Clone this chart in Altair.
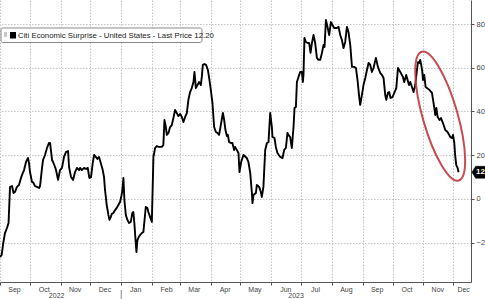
import altair as alt
import pandas as pd

# ---- data (days since 2022-09-01, index value) ----
day_offsets = [
    0, 1.7, 3.3, 5.0, 7.0, 8.6, 10.1, 12.1, 13.6, 15.1, 17.1, 19.1, 21.1, 22.2, 24.2, 26.2, 28.2, 29.2,
    30.2, 32.2, 33.2, 35.2, 37.3, 39.3, 40.3, 42.3, 43.3, 45.3, 47.3, 49.3, 50.4, 52.4, 53.4, 55.4, 56.4,
    58.4, 60.4, 62.4, 64.4, 66.5, 68.5, 69.5, 71.5, 73.5, 75.5, 77.5, 79.6,
    80.6, 82.3, 84.6, 86.6, 88.3, 89.9, 91.6, 93.3, 94.7, 96.4, 98.0, 99.7, 101.4, 103.4, 104.7, 105.7,
    107.4, 109.1, 110.1, 111.5, 112.5, 114.1, 115.8, 117.5, 119.1, 120.8, 121.8, 123.2, 124.2, 125.2,
    126.6, 128.2, 129.9, 131.6, 133.2, 134.2, 135.2, 136.2, 137.3, 138.3, 139.7, 141.0, 142.7, 144.3,
    145.3, 146.7, 148.3, 149.3, 151.1, 152.8, 154.4, 156.1, 157.8, 159.4, 161.1,
    162.8, 164.4, 165.5, 166.9, 167.9, 169.5, 171.2, 172.9, 174.5, 176.2, 177.9, 179.5, 181.3, 183.0,
    184.6, 186.3, 188.0, 189.6, 191.3, 193.0, 194.7, 195.7, 197.1, 198.7, 200.4, 202.1, 203.1, 204.1,
    205.7, 207.4, 209.2, 210.5, 212.2, 213.8, 215.5, 217.2, 218.8, 220.5, 222.2, 224.3, 225.6, 226.9,
    228.3, 229.3, 230.6, 232.3, 233.9, 235.6,
    236.6, 240.0, 241.0, 242.7, 245.0, 248.4, 250.0, 251.8, 253.5, 254.1, 255.1, 257.5, 258.5, 260.8,
    262.5, 263.5, 265.1, 266.9, 268.6, 270.2, 271.9, 273.6, 274.2, 276.2, 277.6, 279.2, 282.0, 284.3,
    286.0, 287.7, 289.3, 290.3, 292.0, 293.7, 295.4, 296.4, 297.8, 298.8, 300.4, 302.1, 303.8, 304.8,
    305.4, 306.4, 307.8, 309.9, 311.2, 312.5, 313.9, 315.5, 317.2, 318.9, 320.5, 322.2,
    324.0, 325.6, 326.6, 328.0, 329.6, 331.3, 333.0, 334.6, 336.3, 339.1, 340.7, 342.4, 344.1, 345.7,
    347.4, 349.1, 350.7, 352.5, 354.2, 356.5, 358.2, 359.8, 361.5, 362.5, 364.2, 365.8, 367.6, 369.3,
    370.9, 372.6, 374.3, 375.9, 378.3, 380.3, 382.7, 384.4, 386.0, 387.7, 388.7, 390.4, 391.7, 393.0,
    395.0, 397.1, 398.8, 400.5, 402.8,
    405.5, 406.8, 408.8, 410.2, 411.6, 412.9, 414.6, 416.2, 417.9, 419.6, 420.6, 421.9, 422.9, 423.9,
    425.0, 425.7, 427.0, 428.3, 429.7, 432.3, 434.7, 436.3, 438.0, 439.1, 440.4, 442.4, 443.8, 445.8,
    448.1, 450.4, 453.2, 454.9, 455.9, 457.2, 458.2, 459.2, 460.5, 461.5,
]
values = [
    -26.6, -25.6, -20.1, -15.6, -13.3, -11.0, 5.5, 5.9, 2.7, 3.2, 5.5, 6.4, 9.6, 11.0, 13.2, 16.9, 18.7, 16.4,
    12.3, 7.7, 7.7, 5.9, 5.5, 5.0, 5.9, 14.2, 17.8, 20.1, 23.3, 25.6, 25.6, 17.8, 16.9, 14.6, 13.2,
    8.7, 13.2, 14.2, 19.2, 21.5, 21.9, 14.6, 10.0, 8.7, 12.3, 14.2, 13.2,
    14.2, 13.2, 14.2, 13.7, 14.2, 9.6, 10.0, 16.4, 20.1, 19.2, 18.3, 19.2, 16.4, 13.2, 10.0, 4.1,
    -2.8, -7.3, -9.6, -8.3, -6.9, -6.4, -5.1, -4.1, -2.8, -1.4, 0.4, 4.1, 9.6, -0.5,
    -7.3, -9.6, -11.0, -10.5, -6.4, -6.0, -11.0, -17.4, -24.3, -18.8, -17.4, -16.5, -15.6, -15.1,
    -10.5, -3.7, -4.1, -6.0, -8.3, -10.5, 19.2, 23.3, 24.2, 23.8, 23.8,
    23.8, 24.7, 36.1, 32.9, 29.3, 30.2, 32.9, 33.8, 37.0, 40.7, 39.3, 37.9, 38.9, 37.5,
    35.2, 37.5, 39.3, 45.3, 48.9, 50.7, 53.5, 58.1, 50.7, 52.1, 53.5, 52.1, 55.8, 61.3,
    61.7, 61.3, 59.0, 55.3, 49.8, 43.9, 32.9, 30.6, 30.2, 29.3, 33.8, 39.3, 36.1, 31.5,
    28.8, 29.3, 26.0, 25.6, 25.6, 22.4,
    23.8, 21.0, 12.3, 16.9, 20.1, 18.7, 16.9, 11.9, 2.7, -1.9, 1.8, 2.7, 6.4, 5.5,
    3.2, 0.9, 5.5, 22.4, 25.6, 26.0, 39.3, 32.9, 28.3, 27.9, 23.8, 21.0, 19.2, 18.7,
    22.4, 23.3, 30.2, 29.3, 28.3, 23.3, 32.9, 41.6, 42.1, 53.5, 55.8, 58.1, 58.1, 53.5,
    56.7, 73.6, 71.8, 71.3, 71.3, 66.8, 71.3, 75.0, 71.3, 64.5, 63.6, 63.6,
    66.8, 70.4, 69.5, 81.9, 78.7, 75.0, 80.9, 79.6, 78.2, 78.2, 78.7, 75.0, 72.7, 69.0,
    71.8, 78.7, 76.4, 70.4, 60.4, 60.4, 59.9, 54.4, 46.6, 43.0, 47.5, 52.1, 55.3, 59.0,
    62.2, 61.3, 58.1, 59.9, 64.5, 60.4, 57.6, 56.7, 55.3, 47.5, 45.3, 48.5, 48.9, 46.2,
    46.6, 48.9, 50.7, 59.9, 58.1,
    55.8, 53.5, 56.7, 54.4, 52.1, 53.5, 51.2, 48.9, 52.1, 59.0, 62.6, 62.2, 63.6, 61.3,
    58.1, 54.4, 56.7, 51.2, 50.7, 49.8, 48.5, 43.9, 38.4, 41.6, 37.5, 36.1, 37.0, 34.7,
    31.5, 30.6, 28.3, 27.9, 29.3, 25.6, 19.2, 15.5, 14.2, 12.2,
]
last_price = 12.20
legend_label = "Citi Economic Surprise - United States - Last Price 12.20"
y_ticks = [-20, 0, 20, 40, 60, 80]
month_starts = [
    "2022-09-01", "2022-10-01", "2022-11-01", "2022-12-01", "2023-01-01", "2023-02-01",
    "2023-03-01", "2023-04-01", "2023-05-01", "2023-06-01", "2023-07-01", "2023-08-01",
    "2023-09-01", "2023-10-01", "2023-11-01", "2023-12-01",
]
year_labels = ["2022", "2023"]
year_label_dates = ["2022-10-28", "2023-06-26"]
year_break_date = "2023-01-01"
ellipse_center_date = "2023-11-18"
ellipse_center_value = 37.9

W, H = 471, 282

start = pd.Timestamp("2022-09-01")
df = pd.DataFrame({
    "date": start + pd.to_timedelta(day_offsets, unit="D"),
    "value": values,
})

month_ticks = []
for s in month_starts:
    t = pd.Timestamp(s)
    month_ticks.append(alt.DateTime(year=t.year, month=t.month, date=1))

x_scale = alt.Scale(domain=[alt.DateTime(year=2022, month=9, date=1),
                            alt.DateTime(year=2023, month=12, date=19)])
y_scale = alt.Scale(domain=[-38, 91], nice=False, zero=False)

x_axis = alt.Axis(
    values=month_ticks, tickCount=40, format="%b", title=None, grid=True,
    labelOverlap=False, labelFlush=False, labelBound=False,
    labelPadding=0,
    labelOffset={"condition": {"test": "month(datum.value) == 11 && year(datum.value) == 2023",
                               "value": 10}, "value": 14},
)
y_axis = alt.Axis(
    orient="right", values=y_ticks, title=None, grid=True,
    labelPadding=2, labelFontSize=7.5,
)

line = alt.Chart(df).mark_line(color="#000", strokeWidth=1.9, strokeJoin="round").encode(
    x=alt.X("date:T", scale=x_scale, axis=x_axis),
    y=alt.Y("value:Q", scale=y_scale, axis=y_axis),
)

ell_df = pd.DataFrame({"date": [pd.Timestamp(ellipse_center_date)], "value": [ellipse_center_value]})
ellipse = alt.Chart(ell_df).mark_point(
    shape="M 0 -1 A 0.26 1 0 1 1 0 1 A 0.26 1 0 1 1 0 -1 Z",
    filled=False, stroke="#c0393f", strokeWidth=2.0, opacity=0.9, angle=344,
).encode(x="date:T", y="value:Q", size=alt.value(17956))

tag_df = pd.DataFrame({"value": [last_price], "label": [f"{last_price:.2f}"]})
tag = alt.Chart(tag_df).mark_point(
    shape="M -1 0 L -0.88 -0.2 L 1 -0.2 L 1 0.2 L -0.88 0.2 Z",
    filled=True, fill="#000", stroke="#000", strokeWidth=0.5, opacity=1,
).encode(x=alt.value(W + 31), y="value:Q", size=alt.value(3600))
tag_text = alt.Chart(tag_df).mark_text(
    align="left", baseline="middle", color="#fff", font="Liberation Sans",
    fontSize=8, fontWeight="bold",
).encode(x=alt.value(W + 5), y="value:Q", text="label:N")

yr_df = pd.DataFrame({"date": pd.to_datetime(year_label_dates), "label": year_labels})
years = alt.Chart(yr_df).mark_text(
    baseline="middle", align="center", font="Liberation Sans", fontSize=7, color="#444",
).encode(x="date:T", y=alt.value(H + 14), text="label:N")

brk_df = pd.DataFrame({"date": [pd.Timestamp(year_break_date)]})
year_break = alt.Chart(brk_df).mark_rule(color="#888", strokeWidth=1).encode(
    x="date:T", y=alt.value(H + 8), y2=alt.value(H + 17))

leg_df = pd.DataFrame({"label": [legend_label]})
leg_box = alt.Chart(leg_df).mark_rect(
    fill="#fff", stroke="#8a8a8a", strokeWidth=1, cornerRadius=2,
).encode(x=alt.value(1), x2=alt.value(202), y=alt.value(28), y2=alt.value(42.5))
leg_icon = alt.Chart(leg_df).mark_rect(fill="#c8c8c8").encode(
    x=alt.value(4), x2=alt.value(7), y=alt.value(32), y2=alt.value(37))
leg_sq = alt.Chart(leg_df).mark_rect(fill="#000").encode(
    x=alt.value(10), x2=alt.value(16), y=alt.value(32), y2=alt.value(38.5))
leg_text = alt.Chart(leg_df).mark_text(
    align="left", baseline="middle", font="Liberation Sans", fontSize=7.8, color="#222",
).encode(x=alt.value(18), y=alt.value(35.5), text="label:N")

chart = alt.layer(
    line, ellipse, tag, tag_text, years, year_break, leg_box, leg_icon, leg_sq, leg_text
).properties(
    width=W, height=H,
    autosize=alt.AutoSizeParams(type="none"),
    padding={"left": 0, "top": 0, "right": 14, "bottom": 17},
    background="#ffffff",
).configure_view(stroke=None).configure_axis(
    gridColor="#c4c4c4", gridDash=[1.5, 1.5], gridWidth=1,
    domainColor="#555", domainWidth=1, tickColor="#555", tickSize=3,
    labelFont="Liberation Sans", labelFontSize=7, labelColor="#444",
).configure_axisX(labelOverlap=False, labelFlush=False)

chart.save("out.html", embed_options={"renderer": "svg", "actions": False})
